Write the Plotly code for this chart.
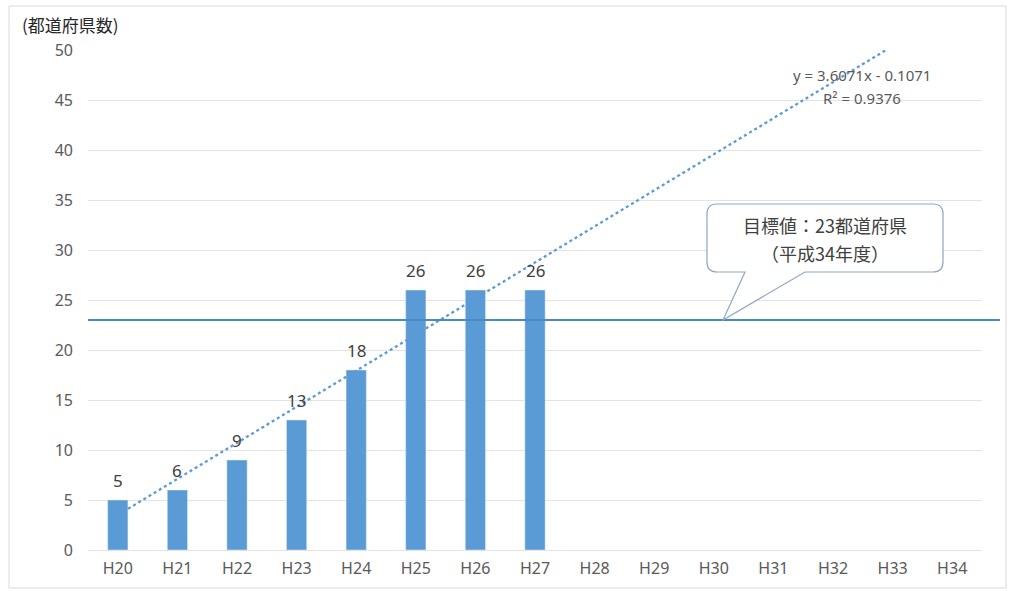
import numpy as np
import plotly.graph_objects as go

# ---- data ----
categories = ["H20", "H21", "H22", "H23", "H24", "H25", "H26", "H27",
              "H28", "H29", "H30", "H31", "H32", "H33", "H34"]
values = [5, 6, 9, 13, 18, 26, 26, 26]
target_value = 23
y_ticks = [0, 5, 10, 15, 20, 25, 30, 35, 40, 45, 50]
y_title = "(都道府県数)"
callout_lines = ["目標値：23都道府県", "（平成34年度）"]

# ---- layout geometry (pixels) ----
W, H = 1010, 591
L, R, T, B = 88, 28, 50, 41
pw, ph = W - L - R, H - T - B


def px(x):
    return (x - L) / pw


def py(y):
    return (H - B - y) / ph


xpos = list(range(len(categories)))
bar_x = xpos[:len(values)]

# linear trend fit (x = 1..n like Excel)
xn = np.arange(1, len(values) + 1)
slope, intercept = np.polyfit(xn, values, 1)
pred = slope * xn + intercept
r2 = 1 - np.sum((np.array(values) - pred) ** 2) / np.sum((np.array(values) - np.mean(values)) ** 2)
x_end = (max(y_ticks) - intercept) / slope
trend_xn = np.array([1, x_end])
trend_y = slope * trend_xn + intercept
trend_x = trend_xn - 1

blue = "#5B9BD5"
txt = "#404040"
tick_col = "#595959"

fig = go.Figure()
fig.add_trace(go.Bar(
    x=bar_x, y=values, width=0.34, marker_color=blue,
    showlegend=False, hoverinfo="skip",
))
fig.add_trace(go.Scatter(
    x=trend_x, y=trend_y, mode="lines",
    line=dict(color=blue, width=2.3, dash="dot"), showlegend=False,
))

shapes = []
# target line
shapes.append(dict(type="line", xref="paper", yref="y", x0=0, x1=px(1000),
                   y0=target_value, y1=target_value,
                   line=dict(color="#4A88C7", width=1.8), layer="above"))
# outer border
shapes.append(dict(type="rect", xref="paper", yref="paper",
                   x0=px(9), x1=px(1006), y0=py(6), y1=py(588),
                   line=dict(color="#D9D9D9", width=1), layer="below"))
# callout
bx0, bx1, by0, by1, r = 707, 943, 204, 272, 10
tip = (723, 320)
pb0, pb1 = 745, 805
pts = [
    ("M", bx0 + r, by0), ("L", bx1 - r, by0), ("Q", bx1, by0, bx1, by0 + r),
    ("L", bx1, by1 - r), ("Q", bx1, by1, bx1 - r, by1),
    ("L", pb1, by1), ("L", tip[0], tip[1]), ("L", pb0, by1),
    ("L", bx0 + r, by1), ("Q", bx0, by1, bx0, by1 - r),
    ("L", bx0, by0 + r), ("Q", bx0, by0, bx0 + r, by0),
]
path = ""
for p in pts:
    if p[0] == "Q":
        path += f"Q {px(p[1]):.5f},{py(p[2]):.5f} {px(p[3]):.5f},{py(p[4]):.5f} "
    else:
        path += f"{p[0]} {px(p[1]):.5f},{py(p[2]):.5f} "
path += "Z"
shapes.append(dict(type="path", xref="paper", yref="paper", path=path,
                   fillcolor="white", line=dict(color="#8FA7BF", width=1.2),
                   layer="above"))


def ann(x, y, text, size, color, family, xanchor="center"):
    return dict(xref="paper", yref="paper", x=px(x), y=py(y), text=text,
                xanchor=xanchor, yanchor="middle", showarrow=False,
                font=dict(size=size, color=color, family=family))


annotations = [
    ann(825, 225, callout_lines[0], 18, txt, "Noto Sans CJK JP"),
    ann(825, 253, callout_lines[1], 18, txt, "Noto Sans CJK JP"),
    ann(862, 75, f"y = {slope:.4f}x - {abs(intercept):.4f}", 15, tick_col, "Noto Sans"),
    ann(862, 98, f"R² = {r2:.4f}", 15, tick_col, "Noto Sans"),
    ann(20, 25, y_title, 17, "#262626", "Noto Sans CJK JP", xanchor="left"),
]
# bar value labels
for xv, v in zip(bar_x, values):
    annotations.append(dict(xref="x", yref="y", x=xv, y=v, text=str(v),
                            xanchor="center", yanchor="bottom", yshift=6,
                            showarrow=False,
                            font=dict(size=17, color=txt, family="Noto Sans")))

fig.update_layout(
    width=W, height=H,
    margin=dict(l=L, r=R, t=T, b=B),
    paper_bgcolor="white", plot_bgcolor="white",
    shapes=shapes, annotations=annotations,
    xaxis=dict(range=[-0.5, len(categories) - 0.5], tickmode="array",
               tickvals=xpos, ticktext=categories, showgrid=False,
               zeroline=False, showline=False, ticks="",
               tickfont=dict(size=16, color=tick_col, family="Noto Sans"),
               ticklabelstandoff=7),
    yaxis=dict(range=[0, 50], tickmode="array", tickvals=y_ticks,
               showgrid=True, gridcolor="#E3E3E3", gridwidth=1,
               zeroline=True, zerolinecolor="#E3E3E3", zerolinewidth=1,
               showline=False, ticks="",
               tickfont=dict(size=16, color=tick_col, family="Noto Sans"),
               ticklabelstandoff=14),
    bargap=0.66,
)

fig.write_html("out.html", config={"displayModeBar": False},
               post_script="document.body.style.margin='0';")
